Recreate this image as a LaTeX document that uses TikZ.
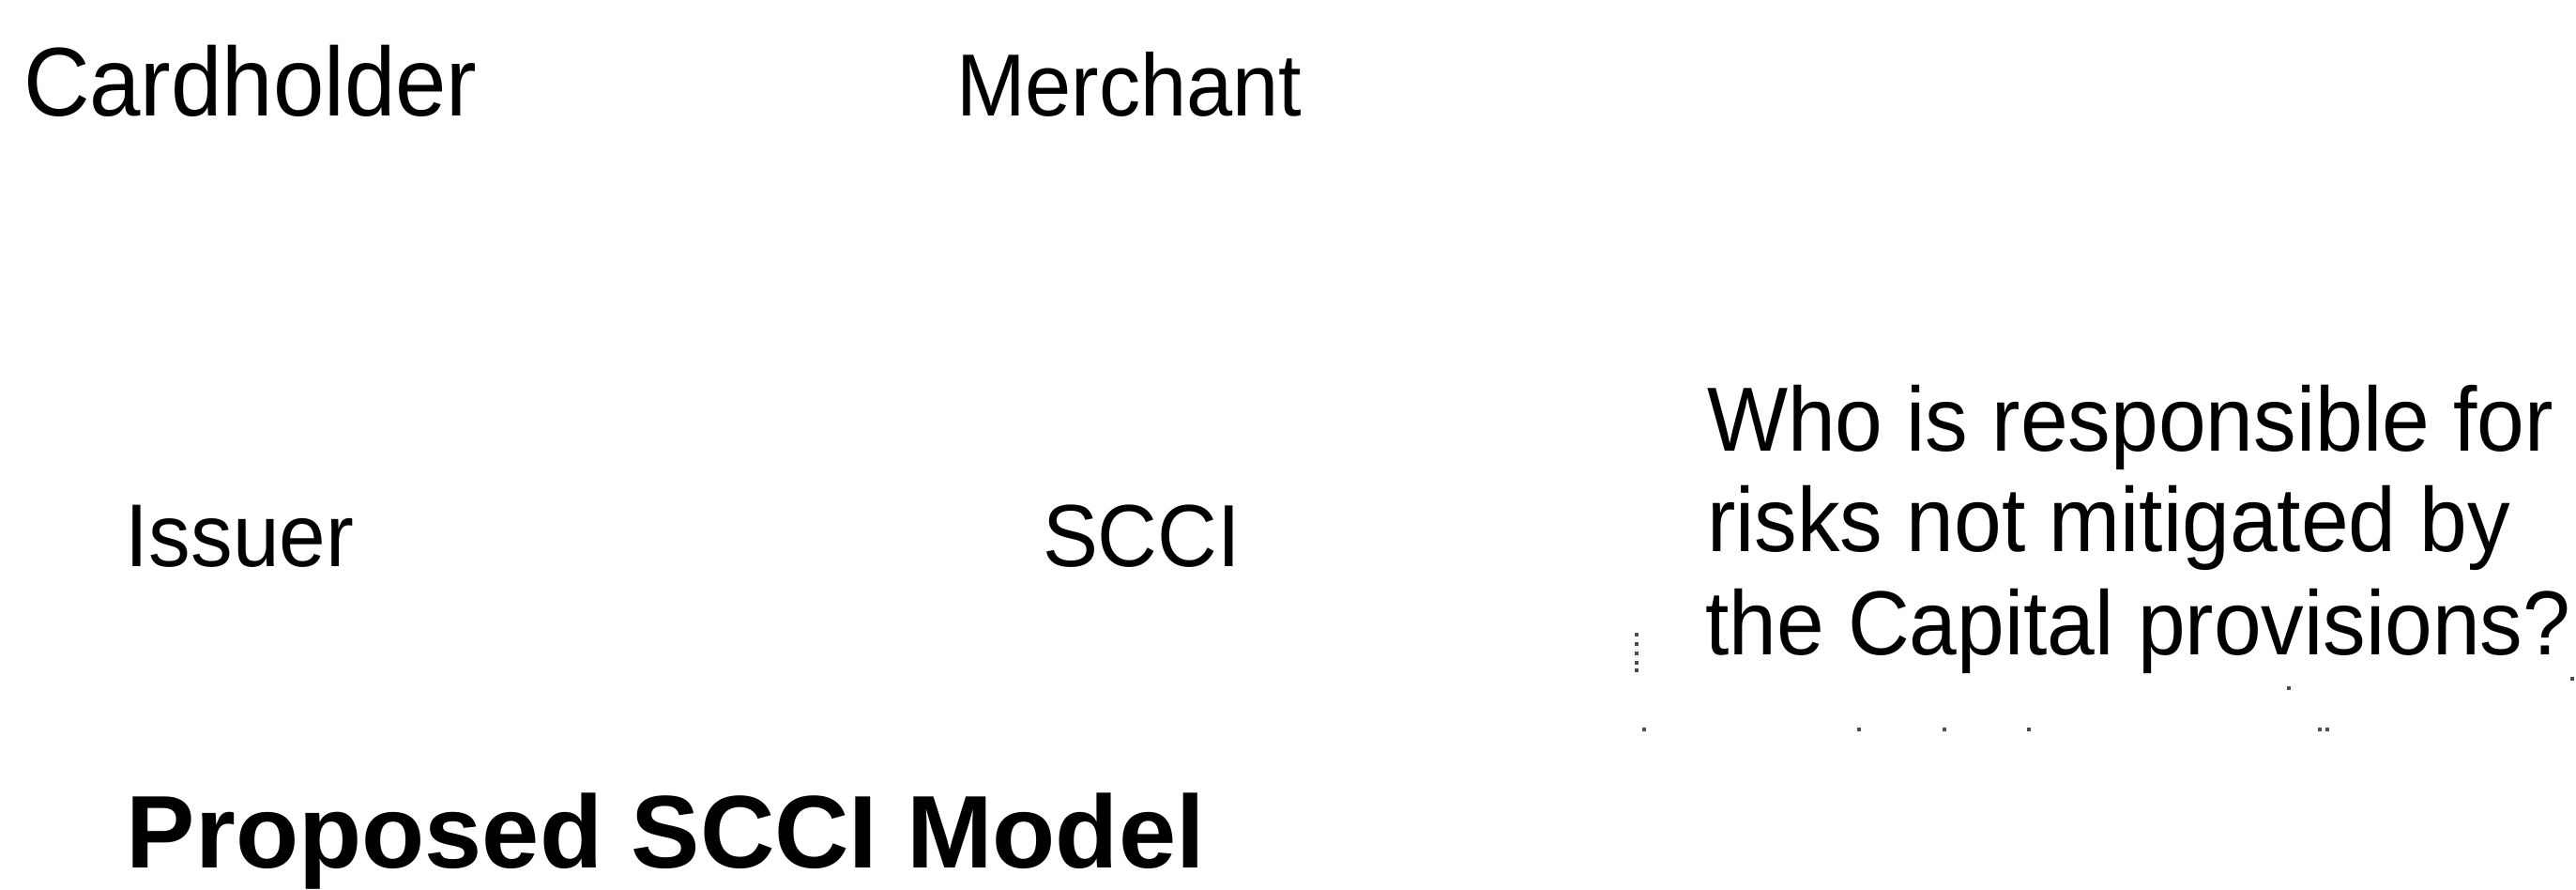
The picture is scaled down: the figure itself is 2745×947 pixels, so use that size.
\documentclass[tikz,border=0pt]{standalone}
\usepackage{fontspec}
\setmainfont{Liberation Sans}
\newfontfamily\condfont[FakeStretch=0.94]{Liberation Sans}
\begin{document}
\begin{tikzpicture}[x=0.25pt,y=-0.25pt,
  lbl/.style={inner sep=0pt,outer sep=0pt,anchor=base west,text=black},
  artdot/.style={fill=black!70}]
\fill[white] (0,0) rectangle (2745,947);
\useasboundingbox (0,0) rectangle (2745,947);
% labels
\node[lbl,font=\condfont\fontsize{26}{30}\selectfont] (card) at (25,123) {Cardholder};
\node[lbl,font=\condfont\fontsize{23.5}{28}\selectfont] (merch) at (1019,123) {Merchant};
\node[lbl,font=\condfont\fontsize{23.75}{28}\selectfont] (issuer) at (134,603) {Issuer};
\node[lbl,font=\condfont\fontsize{23.5}{28}\selectfont] (scci) at (1111,603) {SCCI};
% question
\node[lbl,font=\condfont\fontsize{24.25}{27}\selectfont] (q1) at (1819,480) {Who is responsible for};
\node[lbl,font=\condfont\fontsize{24.25}{27}\selectfont] (q2) at (1819,587) {risks not mitigated by};
\node[lbl,font=\condfont\fontsize{24.25}{27}\selectfont] (q3) at (1817,697) {the Capital provisions?};
% title
\node[lbl,font=\bfseries\fontsize{27.5}{32}\selectfont] (title) at (135,924) {Proposed SCCI Model};
% faint dotted remnants
\foreach \yy in {674,684,694,704,712}
  \fill[artdot] (1742,\yy) rectangle +(4,4);
\foreach \xx in {1750,1979,2070,2160,2470,2478}
  \fill[artdot] (\xx,775) rectangle +(4,4);
\fill[artdot] (2437,731) rectangle +(4,4);
\fill[artdot] (2739,721) rectangle +(4,4);
\end{tikzpicture}
\end{document}
